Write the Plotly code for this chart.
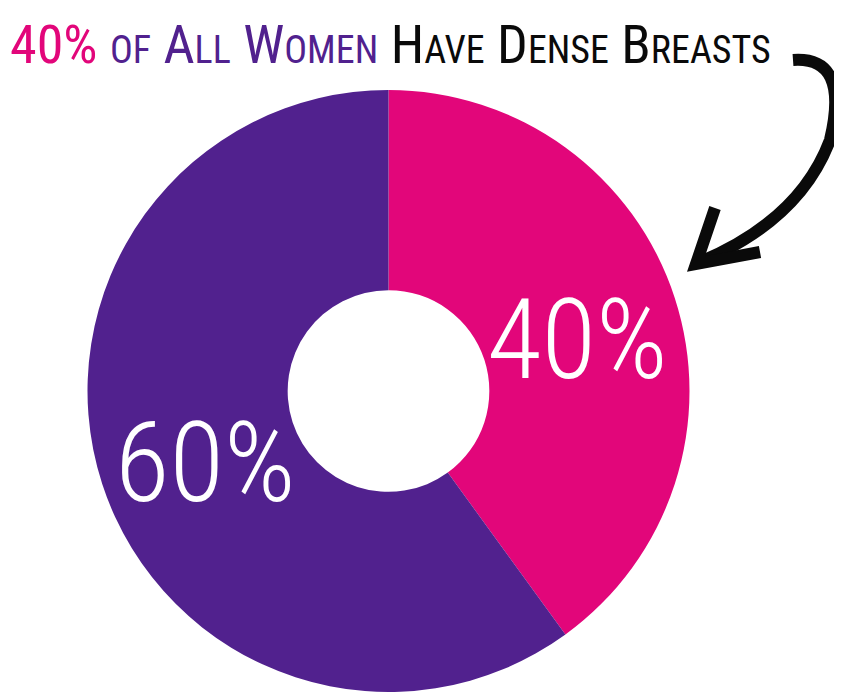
import math
import plotly.graph_objects as go

# Data
categories = ["Dense breasts", "Not dense"]
values = [40, 60]
colors = ["#E2067A", "#51218E"]
title_words = [("40%", ""), ("", "OF"), ("A", "LL"), ("W", "OMEN"), ("H", "AVE"), ("D", "ENSE"), ("B", "REASTS")]
title_colors = ["#E2067A", "#51218E", "#51218E", "#51218E", "#0a0a0a", "#0a0a0a", "#0a0a0a"]

# The page body adds an 8px margin, so the figure is 8px smaller than the window
OFF = 8
W, H = 842 - OFF, 695 - OFF
FONT = "Roboto Condensed, DejaVu Sans Condensed, sans-serif"


def px(x, y):
    """screen pixel -> paper coordinates"""
    return (x - OFF) / W, 1 - (y - OFF) / H


def P(x, y):
    a, b = px(x, y)
    return f"{a:.5f},{b:.5f}"


# Pie geometry (screen px)
CX, CY, R = 388.5, 391, 301
HOLE = 0.335

fig = go.Figure()
fig.add_trace(go.Pie(
    labels=categories,
    values=values,
    marker=dict(colors=colors, line=dict(width=0)),
    hole=HOLE,
    sort=False,
    direction="clockwise",
    rotation=0,
    textinfo="none",
    domain=dict(x=[px(CX - R, 0)[0], px(CX + R, 0)[0]],
                y=[px(0, CY + R)[1], px(0, CY - R)[1]]),
    showlegend=False,
    hoverinfo="label+percent",
))

# Slice labels placed at each slice's mid-angle
total = sum(values)
cum = 0
for i, v in enumerate(values):
    mid = (cum + v / 2) / total * 2 * math.pi
    cum += v
    r = 0.66 * R
    x, y = CX + r * math.sin(mid), CY - r * math.cos(mid) + 10
    ax, ay = px(x, y)
    fig.add_annotation(text=f"{round(v / total * 100)}%", x=ax, y=ay, xref="paper", yref="paper",
                       xanchor="center", yanchor="middle", showarrow=False, xshift=6 if i else 0,
                       font=dict(family=FONT, size=112, color="white", weight=300))

BIG, SMALL = 54, 38


def sp(t, c, s):
    return f'<span style="color:{c};font-size:{s}px">{t}</span>' if t else ""


title = " ".join(sp(a, c, BIG) + sp(b, c, SMALL) for (a, b), c in zip(title_words, title_colors))
tx, ty = px(OFF, 78)
fig.add_annotation(
    text=title, x=tx, y=ty, xref="paper", yref="paper",
    xanchor="left", yanchor="bottom", showarrow=False,
    font=dict(family=FONT, size=BIG, color="#0a0a0a", weight=400),
)

# Hand-drawn arrow
shaft = f"M {P(793, 60)} Q {P(850, 56)} {P(830, 140)} Q {P(800, 220)} {P(700, 262)}"
head = f"M {P(715, 208)} L {P(696, 264)} L {P(760, 252)}"
for path in (shaft, head):
    fig.add_shape(type="path", path=path, xref="paper", yref="paper",
                  line=dict(color="#0a0a0a", width=12))

fig.update_layout(
    width=W, height=H,
    margin=dict(l=0, r=0, t=0, b=0),
    paper_bgcolor="white", plot_bgcolor="white",
)

fig.write_html("out.html")
